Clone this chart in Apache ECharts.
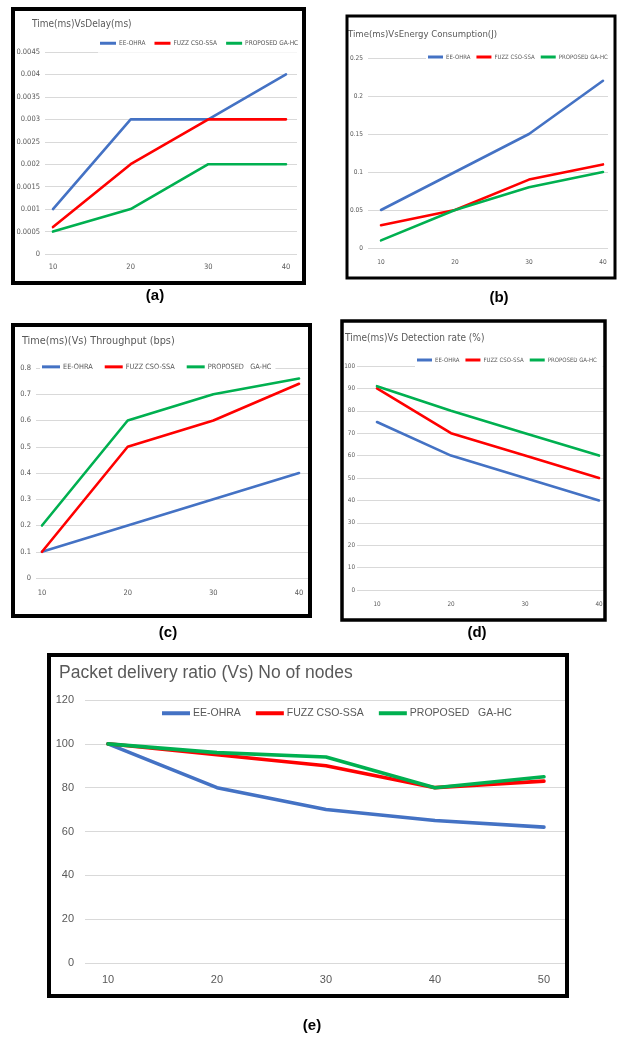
<!DOCTYPE html>
<html>
<head>
<meta charset="utf-8">
<script src="https://cdn.jsdelivr.net/npm/echarts@6/dist/echarts.min.js"></script>
<style>
html,body{margin:0;padding:0;background:#fff;}
#main{width:621px;height:1039px;}
</style>
</head>
<body>
<div id="main"></div>
<script>
// ---------- DATA ----------
const seriesNames = ['EE-OHRA', 'FUZZ CSO-SSA', 'PROPOSED GA-HC'];
const seriesNamesWide = ['EE-OHRA', 'FUZZ CSO-SSA', 'PROPOSED   GA-HC'];

// (a) Time(ms) vs Delay(ms)
const categoriesA = [10, 20, 30, 40];
const eeA   = [0.001, 0.003, 0.003, 0.004];
const fuzzA = [0.0006, 0.002, 0.003, 0.003];
const gaA   = [0.0005, 0.001, 0.002, 0.002];
const yTicksA = [0, 0.0045, 0.0005];

// (b) Time(ms) vs Energy Consumption(J)
const categoriesB = [10, 20, 30, 40];
const eeB   = [0.05, 0.10, 0.15, 0.22];
const fuzzB = [0.03, 0.05, 0.09, 0.11];
const gaB   = [0.01, 0.05, 0.08, 0.10];
const yTicksB = [0, 0.25, 0.05];

// (c) Time(ms) vs Throughput (bps)
const categoriesC = [10, 20, 30, 40];
const eeC   = [0.1, 0.2, 0.3, 0.4];
const fuzzC = [0.1, 0.5, 0.6, 0.74];
const gaC   = [0.2, 0.6, 0.7, 0.76];
const yTicksC = [0, 0.8, 0.1];

// (d) Time(ms) vs Detection rate (%)
const categoriesD = [10, 20, 30, 40];
const eeD   = [75, 60, 50, 40];
const fuzzD = [90, 70, 60, 50];
const gaD   = [91, 80, 70, 60];
const yTicksD = [0, 100, 10];

// (e) Packet delivery ratio vs No of nodes
const categoriesE = [10, 20, 30, 40, 50];
const eeE   = [100, 80, 70, 65, 62];
const fuzzE = [100, 95, 90, 80, 83];
const gaE   = [100, 96, 94, 80, 85];
const yTicksE = [0, 120, 20];

const colors = ['#4472C4', '#FF0000', '#00B050'];

// ---------- LAYOUT ----------
const NARROW = "'DejaVu Sans Condensed','Liberation Sans',sans-serif";
const REG = "'Liberation Sans','Open Sans',sans-serif";

const panels = [
  { cats: categoriesA, vals: [eeA, fuzzA, gaA], yt: yTicksA, names: seriesNames,
    title: 'Time(ms)VsDelay(ms)', titleX: 32, titleY: 25, titleSize: 10,
    grid: [45, 52, 297, 254], xRange: [8.97, 41.42],
    box: [13, 9, 291, 274], boxW: 4, label: '(a)', labelXY: [155, 296],
    legend: { left: 98, cy: 44, iw: 16, ih: 3, gap: 9, fs: 6.5, padR: 6 },
    font: NARROW, fs: 7.5, lw: 2.6, yLabelMargin: 5, xLabelMargin: 9 },
  { cats: categoriesB, vals: [eeB, fuzzB, gaB], yt: yTicksB, names: seriesNames,
    title: 'Time(ms)VsEnergy Consumption(J)', titleX: 348, titleY: 35, titleSize: 9.5,
    grid: [368, 58, 608, 248], xRange: [8.24, 40.68],
    box: [347, 16, 268, 262], boxW: 3, label: '(b)', labelXY: [499, 298],
    legend: { left: 426, cy: 58, iw: 15, ih: 3, gap: 6, fs: 6, padR: 3 },
    font: NARROW, fs: 6.5, lw: 2.6, yLabelMargin: 5, xLabelMargin: 11 },
  { cats: categoriesC, vals: [eeC, fuzzC, gaC], yt: yTicksC, names: seriesNamesWide,
    title: 'Time(ms)(Vs) Throughput (bps)', titleX: 22, titleY: 342, titleSize: 10.8,
    grid: [36, 368, 310, 578], xRange: [9.3, 41.28],
    box: [13, 325, 297, 291], boxW: 4, label: '(c)', labelXY: [168, 633],
    legend: { left: 40, cy: 368, iw: 18, ih: 3, gap: 12, fs: 7.3, padR: 4 },
    font: NARROW, fs: 7.5, lw: 2.6, yLabelMargin: 5, xLabelMargin: 11 },
  { cats: categoriesD, vals: [eeD, fuzzD, gaD], yt: yTicksD, names: seriesNames,
    title: 'Time(ms)Vs Detection rate (%)', titleX: 345, titleY: 339, titleSize: 10,
    grid: [357, 366, 605, 590], xRange: [7.3, 40.81],
    box: [342, 321, 263, 299], boxW: 3.5, label: '(d)', labelXY: [477, 633],
    legend: { left: 415, cy: 361, iw: 15, ih: 3, gap: 6, fs: 6, padR: 6 },
    font: NARROW, fs: 6.3, lw: 2.6, yLabelMargin: 2, xLabelMargin: 11 },
  { cats: categoriesE, vals: [eeE, fuzzE, gaE], yt: yTicksE, names: seriesNamesWide,
    title: 'Packet delivery ratio (Vs) No of nodes', titleX: 59, titleY: 675, titleSize: 17.5,
    grid: [85, 700, 565, 963], xRange: [7.89, 51.93],
    box: [49, 655, 518, 341], boxW: 4, label: '(e)', labelXY: [312, 1026],
    legend: { left: 160, cy: 714, iw: 28, ih: 4, gap: 15, fs: 10.5, padR: 10 },
    font: REG, fs: 11, lw: 3.6, yLabelMargin: 11, xLabelMargin: 11 }
];

// ---------- BUILD OPTION ----------
const W = 621, H = 1039;
const option = { animation: false, backgroundColor: '#fff',
  title: [], legend: [], grid: [], xAxis: [], yAxis: [], series: [], graphic: [] };

panels.forEach((p, i) => {
  const [gl, gt, gr, gb] = p.grid;
  option.grid.push({ left: gl, top: gt, width: gr - gl, height: gb - gt, containLabel: false });
  option.xAxis.push({
    type: 'value', gridIndex: i, min: p.xRange[0], max: p.xRange[1],
    axisLine: { show: false }, axisTick: { show: false }, splitLine: { show: false },
    axisLabel: { customValues: p.cats, color: '#595959', fontSize: p.fs, fontFamily: p.font, margin: p.xLabelMargin }
  });
  option.yAxis.push({
    type: 'value', gridIndex: i, min: p.yt[0], max: p.yt[1], interval: p.yt[2],
    axisLine: { show: false }, axisTick: { show: false },
    splitLine: { show: true, lineStyle: { color: '#d9d9d9', width: 1 } },
    axisLabel: { color: '#595959', fontSize: p.fs, fontFamily: p.font, margin: p.yLabelMargin }
  });
  p.vals.forEach((v, k) => {
    option.series.push({
      type: 'line', name: p.names[k], xAxisIndex: i, yAxisIndex: i,
      data: p.cats.map((c, j) => [c, v[j]]),
      symbol: 'none', color: colors[k],
      lineStyle: { width: p.lw, color: colors[k], join: 'round', cap: 'round' },
      z: 3
    });
  });
  option.title.push({
    text: p.title, left: p.titleX, top: p.titleY - p.titleSize * 0.6, padding: 0,
    textStyle: { fontFamily: p.font, fontSize: p.titleSize, fontWeight: 'normal', color: '#595959' }
  });
  const L = p.legend;
  const lh = L.fs + 2;
  const padV = 6;
  option.legend.push({
    data: p.names, left: L.left, top: L.cy - lh / 2 - padV, width: 400,
    padding: [padV, L.padR, padV, 2], backgroundColor: '#fff',
    itemWidth: L.iw, itemHeight: L.ih, itemGap: L.gap, icon: 'rect',
    textStyle: { fontSize: L.fs, fontFamily: p.font, color: '#595959', padding: [0, 0, 0, -2] },
    selectedMode: false, z: 5
  });
  option.graphic.push({
    type: 'rect', shape: { x: p.box[0], y: p.box[1], width: p.box[2], height: p.box[3] },
    style: { fill: 'none', stroke: '#000', lineWidth: p.boxW }, z: 10
  });
  option.graphic.push({
    type: 'text', x: p.labelXY[0], y: p.labelXY[1],
    style: { text: p.label, font: "bold 15px 'Liberation Sans', Arial, sans-serif", fill: '#000',
      textAlign: 'center', textVerticalAlign: 'middle' }, z: 10
  });
});

const chart = echarts.init(document.getElementById('main'), null, { renderer: 'canvas', width: W, height: H });
chart.setOption(option);
</script>
</body>
</html>
